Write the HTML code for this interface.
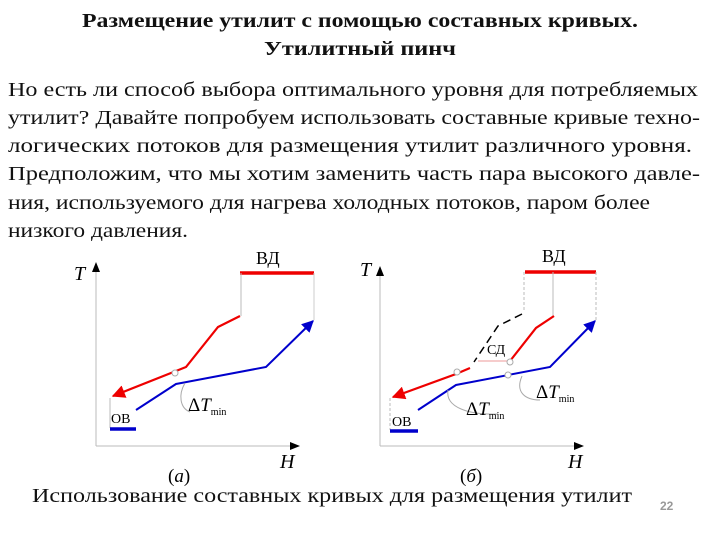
<!DOCTYPE html>
<html><head><meta charset="utf-8"><style>
html,body{margin:0;padding:0;background:#fff;width:720px;height:540px;overflow:hidden}
svg{display:block}
.t{font-family:"Liberation Serif","Noto Serif CJK SC",serif}
</style></head><body>
<svg width="720" height="540" viewBox="0 0 720 540">
<defs>
<marker id="ar" viewBox="0 0 10 10" refX="9" refY="5" markerWidth="6" markerHeight="6" orient="auto"><path d="M0,0L10,5L0,10z" fill="#e00"/></marker>
<marker id="ab" viewBox="0 0 10 10" refX="9" refY="5" markerWidth="6" markerHeight="6" orient="auto"><path d="M0,0L10,5L0,10z" fill="#00c"/></marker>
</defs>
<g class="t" fill="#111">
<text x="360" y="27" font-size="20" font-weight="bold" text-anchor="middle" textLength="556" lengthAdjust="spacingAndGlyphs">Размещение утилит с помощью составных кривых.</text>
<text x="360" y="55" font-size="20" font-weight="bold" text-anchor="middle" textLength="192" lengthAdjust="spacingAndGlyphs">Утилитный пинч</text>
<g font-size="20">
<text x="8" y="96" textLength="690" lengthAdjust="spacingAndGlyphs">Но есть ли способ выбора оптимального уровня для потребляемых</text>
<text x="8" y="124" textLength="692" lengthAdjust="spacingAndGlyphs">утилит? Давайте попробуем использовать составные кривые техно-</text>
<text x="8" y="152" textLength="684" lengthAdjust="spacingAndGlyphs">логических потоков для размещения утилит различного уровня.</text>
<text x="8" y="180" textLength="692" lengthAdjust="spacingAndGlyphs">Предположим, что мы хотим заменить часть пара высокого давле-</text>
<text x="8" y="209" textLength="642" lengthAdjust="spacingAndGlyphs">ния, используемого для нагрева холодных потоков, паром более</text>
<text x="8" y="237" textLength="180" lengthAdjust="spacingAndGlyphs">низкого давления.</text>
</g>
<text x="32" y="502" font-size="20" textLength="600" lengthAdjust="spacingAndGlyphs">Использование составных кривых для размещения утилит</text>
</g>
<text x="660" y="510" font-size="12" font-family="Liberation Sans,sans-serif" fill="#999" font-weight="bold">22</text>

<g>
<line x1="96" y1="446" x2="96" y2="270" stroke="#bbb"/><path d="M92,272L96,262L100,272z" fill="#000"/>
<line x1="96" y1="446" x2="292" y2="446" stroke="#bbb"/><path d="M290,442L300,446L290,450z" fill="#000"/>
<text class="t" x="74" y="280" font-size="20" font-style="italic">T</text>
<text class="t" x="280" y="468" font-size="20" font-style="italic">H</text>
<text class="t" x="168" y="482" font-size="19">(<tspan font-style="italic">a</tspan>)</text>
<text class="t" x="256" y="264" font-size="18">ВД</text>
<line x1="240" y1="273" x2="314" y2="273" stroke="#e00" stroke-width="3.5"/>
<line x1="241" y1="273" x2="241" y2="316" stroke="#bbb"/>
<line x1="314" y1="273" x2="314" y2="320" stroke="#ccc"/>
<polyline points="240,316 218,327 186,367 176,371 113,396" fill="none" stroke="#e00" stroke-width="2.2" marker-end="url(#ar)"/>
<polyline points="136,410 176,384 266,367 313,321" fill="none" stroke="#00c" stroke-width="2" marker-end="url(#ab)"/>
<line x1="110" y1="398" x2="110" y2="428" stroke="#bbb"/>
<line x1="110" y1="429" x2="136" y2="429" stroke="#00c" stroke-width="3.5"/>
<text class="t" x="111" y="423" font-size="14">ОВ</text>
<circle cx="175" cy="373" r="3" fill="#fff" stroke="#aaa"/>
<path d="M185,383 C178,395 180,408 190,412" fill="none" stroke="#aaa"/>
<text class="t" x="188" y="411" font-size="19">Δ<tspan font-style="italic">T</tspan><tspan font-size="10" dy="4">min</tspan></text>
</g>

<g>
<line x1="380" y1="446" x2="380" y2="270" stroke="#bbb"/><path d="M376,276L380,266L384,276z" fill="#000"/>
<line x1="380" y1="446" x2="576" y2="446" stroke="#bbb"/><path d="M574,442L584,446L574,450z" fill="#000"/>
<text class="t" x="360" y="276" font-size="20" font-style="italic">T</text>
<text class="t" x="568" y="468" font-size="20" font-style="italic">H</text>
<text class="t" x="460" y="482" font-size="19">(<tspan font-style="italic">б</tspan>)</text>
<text class="t" x="542" y="262" font-size="18">ВД</text>
<line x1="525" y1="272" x2="596" y2="272" stroke="#e00" stroke-width="3.5"/>
<line x1="524" y1="272" x2="524" y2="312" stroke="#bbb" stroke-dasharray="3,2"/>
<line x1="553" y1="272" x2="553" y2="316" stroke="#bbb"/>
<line x1="596" y1="272" x2="596" y2="320" stroke="#bbb" stroke-dasharray="3,2"/>
<polyline points="554,316 536,328 510,361" fill="none" stroke="#e00" stroke-width="2.2"/>
<line x1="478" y1="361" x2="510" y2="361" stroke="#e99"/>
<polyline points="470,368 456,374 393,397" fill="none" stroke="#e00" stroke-width="2.2" marker-end="url(#ar)"/>
<polyline points="522,314 498,326 474,362" fill="none" stroke="#000" stroke-width="1.5" stroke-dasharray="8,5"/>
<text class="t" x="487" y="354" font-size="14">СД</text>
<polyline points="418,410 456,385 550,367 595,321" fill="none" stroke="#00c" stroke-width="2" marker-end="url(#ab)"/>
<line x1="390" y1="398" x2="390" y2="430" stroke="#bbb" stroke-dasharray="3,2"/>
<line x1="390" y1="431" x2="418" y2="431" stroke="#00c" stroke-width="3.5"/>
<text class="t" x="392" y="426" font-size="14">ОВ</text>
<circle cx="457" cy="372" r="3" fill="#fff" stroke="#aaa"/>
<circle cx="510" cy="362" r="3" fill="#fff" stroke="#aaa"/>
<circle cx="508" cy="375" r="3" fill="#fff" stroke="#aaa"/>
<path d="M448,390 C445,408 470,415 498,414" fill="none" stroke="#aaa"/>
<path d="M522,376 C515,392 525,400 540,400" fill="none" stroke="#aaa"/>
<text class="t" x="466" y="415" font-size="19">Δ<tspan font-style="italic">T</tspan><tspan font-size="10" dy="4">min</tspan></text>
<text class="t" x="536" y="398" font-size="19">Δ<tspan font-style="italic">T</tspan><tspan font-size="10" dy="4">min</tspan></text>
</g>
</svg>
</body></html>
